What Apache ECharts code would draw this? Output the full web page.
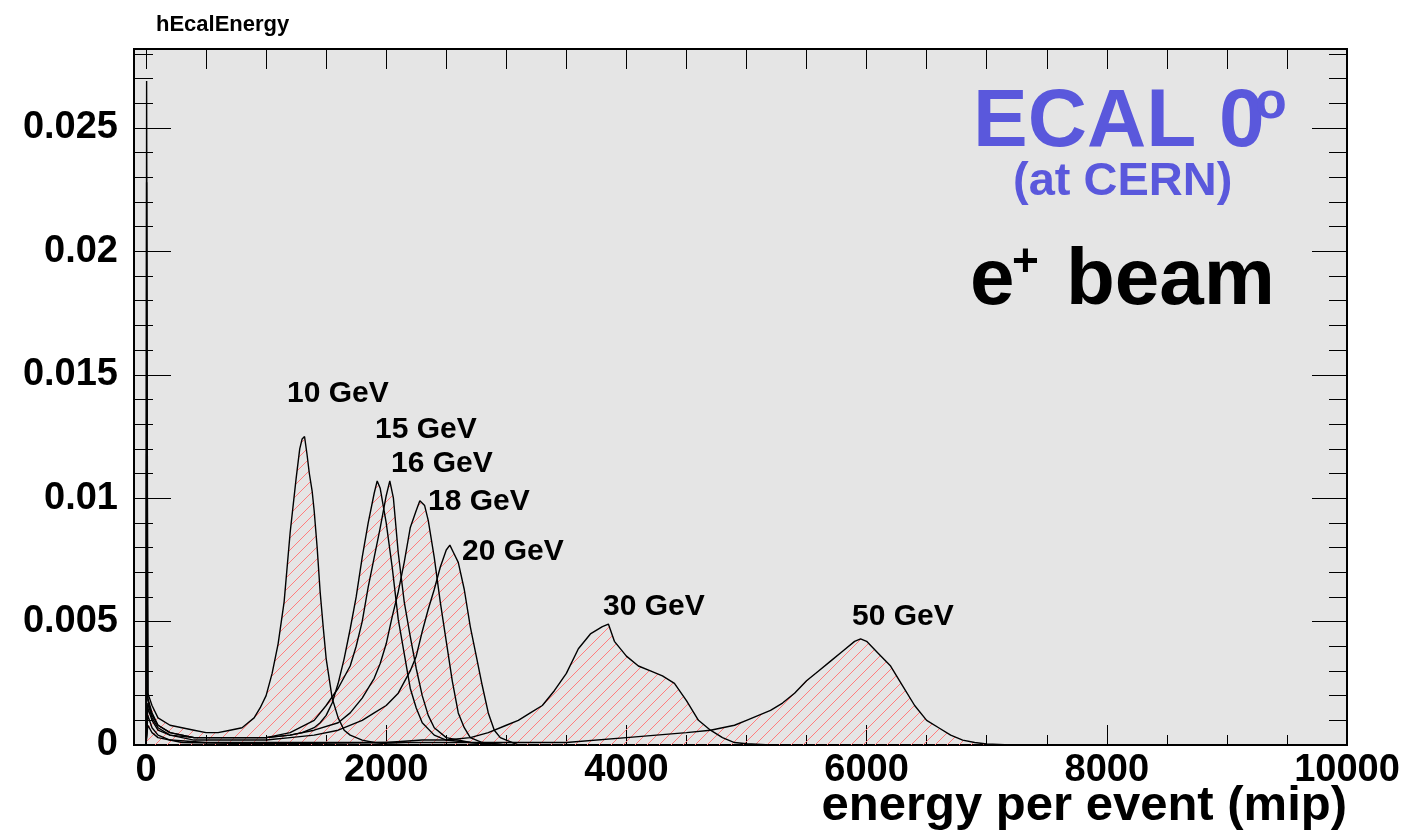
<!DOCTYPE html>
<html>
<head>
<meta charset="utf-8">
<script src="https://cdn.jsdelivr.net/npm/echarts@6/dist/echarts.min.js"></script>
<style>
html,body{margin:0;padding:0;background:#fff}
#main{width:1409px;height:832px}
</style>
</head>
<body>
<div id="main"></div>
<script>
// energy sum per event, normalised histograms
const x10 = [-100, 0, 5, 15, 50, 100, 200, 300, 400, 500, 600, 700, 800, 850, 900, 950, 1000, 1050, 1100, 1150, 1200, 1250, 1280, 1300, 1320, 1340, 1360, 1383, 1400, 1425, 1450, 1475, 1500, 1550, 1600, 1650, 1700, 1800, 1900, 2000, 2200, 2500]
const y10 = [0, 0, 0.0269, 0.0021, 0.0016, 0.0011, 0.0008, 0.0007, 0.0006, 0.0005, 0.0005, 0.0006, 0.0007, 0.0009, 0.0011, 0.0015, 0.0020, 0.0029, 0.0041, 0.0058, 0.0086, 0.0108, 0.0120, 0.0124, 0.0125, 0.0118, 0.0110, 0.0103, 0.0095, 0.0080, 0.0062, 0.0048, 0.0035, 0.0019, 0.0011, 0.0006, 0.0004, 0.0002, 0.0001, 0.00005, 0, 0]

const x15 = [-100, 0, 5, 15, 50, 100, 200, 400, 600, 800, 1000, 1200, 1300, 1400, 1450, 1500, 1550, 1600, 1650, 1700, 1750, 1800, 1850, 1900, 1925, 1950, 2000, 2050, 2100, 2150, 2200, 2250, 2300, 2400, 2500, 2700, 3000]
const y15 = [0, 0, 0.0228, 0.0019, 0.0013, 0.0008, 0.0005, 0.0003, 0.0003, 0.0003, 0.0003, 0.0004, 0.0005, 0.0007, 0.0009, 0.0012, 0.0017, 0.0025, 0.0035, 0.0047, 0.0060, 0.0076, 0.0090, 0.0102, 0.0107, 0.0104, 0.0090, 0.0072, 0.0051, 0.0037, 0.0023, 0.0015, 0.0009, 0.0004, 0.0002, 0.0001, 0]

const x16 = [-100, 0, 5, 15, 50, 100, 200, 400, 600, 800, 1000, 1200, 1400, 1500, 1600, 1700, 1750, 1800, 1850, 1900, 1950, 2000, 2030, 2060, 2100, 2150, 2200, 2250, 2300, 2350, 2400, 2500, 2700, 3000]
const y16 = [0, 0, 0.0118, 0.0018, 0.0012, 0.0008, 0.0005, 0.0003, 0.0003, 0.0003, 0.0003, 0.0005, 0.0010, 0.0016, 0.0023, 0.0032, 0.0040, 0.0050, 0.0064, 0.0076, 0.0088, 0.0101, 0.0107, 0.0100, 0.0078, 0.0058, 0.0044, 0.0031, 0.0020, 0.0012, 0.0007, 0.0003, 0.0001, 0]

const x18 = [-100, 0, 15, 50, 100, 200, 400, 600, 800, 1000, 1200, 1400, 1600, 1700, 1800, 1900, 1950, 2000, 2050, 2100, 2150, 2200, 2250, 2280, 2320, 2350, 2400, 2450, 2500, 2550, 2600, 2650, 2700, 2800, 3000]
const y18 = [0, 0, 0.0017, 0.0011, 0.0007, 0.0004, 0.0003, 0.0003, 0.0003, 0.0003, 0.0004, 0.0006, 0.0009, 0.0013, 0.0019, 0.0027, 0.0033, 0.0041, 0.0052, 0.0062, 0.0074, 0.0088, 0.0095, 0.0099, 0.0097, 0.0091, 0.0076, 0.0058, 0.0042, 0.0026, 0.0013, 0.0007, 0.0003, 0.0001, 0]

const x20 = [-100, 0, 15, 50, 100, 200, 400, 600, 800, 1000, 1200, 1400, 1600, 1800, 1900, 2000, 2100, 2200, 2250, 2300, 2350, 2400, 2450, 2500, 2530, 2560, 2600, 2650, 2700, 2750, 2800, 2850, 2900, 2950, 3000, 3100]
const y20 = [0, 0, 0.0015, 0.0010, 0.0006, 0.0004, 0.0002, 0.0002, 0.0002, 0.0002, 0.0003, 0.0004, 0.0006, 0.0010, 0.0013, 0.0016, 0.0021, 0.0030, 0.0036, 0.0046, 0.0055, 0.0063, 0.0072, 0.0079, 0.0081, 0.0078, 0.0074, 0.0063, 0.0048, 0.0036, 0.0024, 0.0013, 0.0006, 0.0003, 0.0002, 0]

const x30 = [-100, 0, 15, 50, 100, 200, 500, 1000, 1500, 2000, 2300, 2500, 2700, 2850, 3000, 3100, 3200, 3300, 3400, 3500, 3600, 3700, 3800, 3850, 3900, 4000, 4100, 4200, 4300, 4400, 4500, 4600, 4700, 4800, 4900, 5000, 5200]
const y30 = [0, 0, 0.0012, 0.0007, 0.0004, 0.0002, 0.0001, 0.0001, 0.0001, 0.0001, 0.0002, 0.0002, 0.0003, 0.0005, 0.0008, 0.0010, 0.0013, 0.0016, 0.0022, 0.0029, 0.0039, 0.0045, 0.0048, 0.0049, 0.0042, 0.0036, 0.0032, 0.0030, 0.0028, 0.0025, 0.0018, 0.0010, 0.0006, 0.0003, 0.0001, 0.00005, 0]

const x50 = [-100, 0, 15, 50, 100, 300, 1000, 2000, 3000, 3500, 4000, 4500, 4700, 4900, 5000, 5100, 5200, 5300, 5400, 5500, 5600, 5700, 5800, 5900, 5950, 6000, 6100, 6200, 6300, 6400, 6500, 6600, 6700, 6800, 6900, 7000, 7200]
const y50 = [0, 0, 0.0008, 0.0005, 0.0003, 0.0001, 0.00005, 0.0001, 0.0001, 0.0001, 0.0003, 0.0005, 0.0006, 0.0008, 0.0010, 0.0012, 0.0014, 0.0017, 0.0021, 0.0026, 0.0030, 0.0034, 0.0038, 0.0042, 0.0043, 0.0042, 0.0037, 0.0032, 0.0024, 0.0016, 0.0010, 0.0007, 0.0004, 0.0002, 0.0001, 0.00004, 0]

const beamNames = ['10 GeV', '15 GeV', '16 GeV', '18 GeV', '20 GeV', '30 GeV', '50 GeV']

const xMajor = [0, 2000, 4000, 6000, 8000, 10000]
const xMinor = [0, 500, 1000, 1500, 2000, 2500, 3000, 3500, 4000, 4500, 5000, 5500, 6000, 6500, 7000, 7500, 8000, 8500, 9000, 9500, 10000]
const yMajor = [0, 0.005, 0.01, 0.015, 0.02, 0.025]
const yMinor = [0, 0.001, 0.002, 0.003, 0.004, 0.005, 0.006, 0.007, 0.008, 0.009, 0.01, 0.011, 0.012, 0.013, 0.014, 0.015, 0.016, 0.017, 0.018, 0.019, 0.02, 0.021, 0.022, 0.023, 0.024, 0.025, 0.026, 0.027, 0.028]

const FONT = '"Liberation Sans", Arial, Helvetica, sans-serif'
const PURPLE = '#5a58dc'
const HATCH = 'rgb(255, 125, 125)'

const chart = echarts.init(document.getElementById('main'), null, {renderer: 'canvas'})

// red "/" hatch like root fill style 3004
const makeHatch = () => {
  let c = document.createElement('canvas')
  c.width = 12
  c.height = 12
  let g = c.getContext('2d')
  g.strokeStyle = HATCH
  g.lineWidth = 1
  g.beginPath()
  g.moveTo(0, 12); g.lineTo(12, 0)
  g.moveTo(-1, 1); g.lineTo(1, -1)
  g.moveTo(11, 13); g.lineTo(13, 11)
  g.stroke()
  return c
}
const hatch = makeHatch()

const sets = [[x10, y10], [x15, y15], [x16, y16], [x18, y18], [x20, y20], [x30, y30], [x50, y50]]

const xAxisBase = {type: 'value', min: -100, max: 10000, splitLine: {show: false}, axisLine: {show: false, onZero: false}}
const yAxisBase = {type: 'value', min: 0, max: 0.0282, splitLine: {show: false}, axisLine: {show: false, onZero: false}}
const tick = (len, vals) => ({show: true, inside: true, length: len, customValues: vals, lineStyle: {color: '#000', width: 1}})
const labelFont = {fontFamily: FONT, fontWeight: 'bold', fontSize: 38, color: '#000'}

const txt = (x, y, text, size, color) => ({
  type: 'text', x: x, y: y, z: 100, silent: true,
  style: {text: text, fontFamily: FONT, fontWeight: 'bold', fontSize: size, fill: color || '#000', align: 'left', verticalAlign: 'middle'}
})

const option = {
  animation: false,
  backgroundColor: '#fff',
  title: {
    text: 'hEcalEnergy', left: 151, top: 9,
    textStyle: {fontFamily: FONT, fontWeight: 'bold', fontSize: 22, color: '#000'}
  },
  grid: {left: 134, right: 62, top: 49, bottom: 87, show: true, backgroundColor: '#e5e5e5', borderColor: '#000', borderWidth: 2},
  xAxis: [
    Object.assign({}, xAxisBase, {position: 'bottom', axisTick: tick(20, xMajor),
      axisLabel: Object.assign({customValues: xMajor, margin: 7, formatter: v => String(v)}, labelFont)}),
    Object.assign({}, xAxisBase, {position: 'bottom', axisTick: tick(10, xMinor), axisLabel: {show: false}}),
    Object.assign({}, xAxisBase, {position: 'top', axisTick: tick(20, xMinor), axisLabel: {show: false}})
  ],
  yAxis: [
    Object.assign({}, yAxisBase, {position: 'left', axisTick: tick(37, yMajor),
      axisLabel: Object.assign({customValues: yMajor, margin: 16, formatter: v => String(v)}, labelFont)}),
    Object.assign({}, yAxisBase, {position: 'left', axisTick: tick(19, yMinor), axisLabel: {show: false}}),
    Object.assign({}, yAxisBase, {position: 'right', axisTick: tick(35, yMajor), axisLabel: {show: false}}),
    Object.assign({}, yAxisBase, {position: 'right', axisTick: tick(18, yMinor), axisLabel: {show: false}})
  ],
  series: sets.map((s, i) => ({
    name: beamNames[i],
    type: 'line',
    xAxisIndex: 0,
    yAxisIndex: 0,
    data: s[0].map((v, j) => [v, s[1][j]]),
    showSymbol: false,
    symbol: 'none',
    silent: true,
    lineStyle: {color: '#000', width: 1.4},
    areaStyle: {color: {image: hatch, repeat: 'repeat'}, opacity: 1}
  })),
  graphic: [
    txt(287, 394, beamNames[0], 30),
    txt(375, 430, beamNames[1], 30),
    txt(391, 464, beamNames[2], 30),
    txt(428, 502, beamNames[3], 30),
    txt(462, 552, beamNames[4], 30),
    txt(603, 607, beamNames[5], 30),
    txt(852, 617, beamNames[6], 30),
    txt(973, 123, 'ECAL 0', 82, PURPLE),
    txt(1255, 104, 'o', 52, PURPLE),
    txt(1013, 182, '(at CERN)', 47, PURPLE),
    txt(970, 282, 'e', 80),
    txt(1012, 263, '+', 46),
    txt(1066, 282, 'beam', 80),
    {type: 'text', x: 1347, y: 806, z: 100, silent: true,
      style: {text: 'energy per event (mip)', fontFamily: FONT, fontWeight: 'bold', fontSize: 49, fill: '#000', align: 'right', verticalAlign: 'middle'}}
  ]
}

chart.setOption(option)
</script>
</body>
</html>
